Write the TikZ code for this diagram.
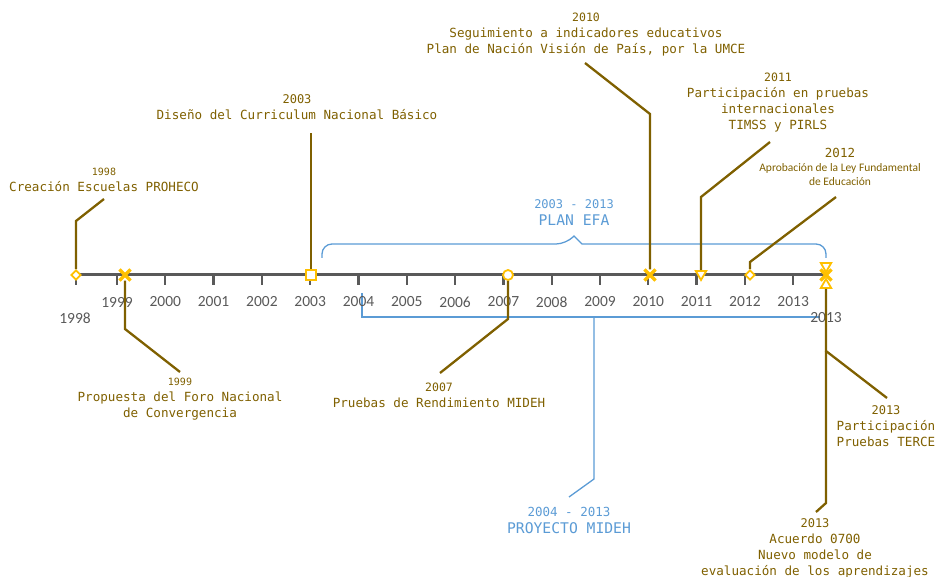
\documentclass[tikz,border=0pt]{standalone}
\usepackage{fontspec}
\setmainfont{Carlito}
\setmonofont{DejaVu Sans Mono}
\usepackage{xcolor}
\usetikzlibrary{shapes.geometric,shapes.misc}
\definecolor{ocre}{HTML}{7F6000}
\definecolor{markorange}{HTML}{FFC000}
\definecolor{efablue}{HTML}{5B9BD5}
\definecolor{axisgray}{HTML}{595959}
\newcommand\evyear[2][11.5]{{\fontsize{#1}{16}\selectfont #2}}
\tikzset{
	timeaxis/.style={axisgray, line width=3pt},
	yeartick/.style={axisgray, line width=2.3pt},
	yearlbl/.style={axisgray, inner sep=0pt, font=\fontsize{15.5}{16}\selectfont},
	leader/.style={ocre, line width=2.3pt},
	event/.style={ocre, align=center, inner sep=0pt, font=\ttfamily\fontsize{12.6}{16}\selectfont},
	span/.style={efablue, line width=1.3pt},
	spanlbl/.style={efablue, align=center, inner sep=0pt, font=\ttfamily\fontsize{14.7}{17}\selectfont},
	marker/.style={draw=markorange, fill=white, line width=1.8pt, inner sep=0pt},
	mdiamond/.style={marker, diamond, minimum size=10pt},
	msquare/.style={marker, rectangle, minimum size=10pt},
	mcircle/.style={marker, circle, minimum size=10pt},
	mtridown/.style={marker, regular polygon, regular polygon sides=3, shape border rotate=180, minimum size=12pt},
	mtriup/.style={marker, regular polygon, regular polygon sides=3, minimum size=12pt},
	mcross/.style={draw=markorange, cross out, line width=3.2pt, minimum size=8pt, inner sep=0pt}
}

\begin{document}
\begin{tikzpicture}[x=1pt,y=-1pt]
	\useasboundingbox (0,0) rectangle (937,577);

	% periods
	\draw[span, rounded corners=10pt] (322,258) |- (566,244) [sharp corners] -- (574,236) -- (582,244) [rounded corners=10pt] -| (826,258);
	\draw[span] (362,293) |- (820,317);
	\node[spanlbl] (efa) at (574,213) {\evyear[12]{2003 - 2013}\\PLAN EFA};
	\node[spanlbl] (mideh) at (569,520) {\evyear[12.5]{2004 - 2013}\\PROYECTO MIDEH};
	\coordinate (pm) at (594,317);
	\coordinate (km) at (594,479);
	\coordinate (em) at (569,497);
	\draw[span] (pm) -- (km) -- (em);

	% axis
	\draw[timeaxis] (76,275) -- (826,275);
	\draw[yeartick] (76,275) -- (76,285);
	\foreach \yy [count=\i from 0] in {1999,...,2013}{
		\draw[yeartick] (117+48.3*\i,275) -- (117+48.3*\i,285);
		\node[yearlbl] (y\yy) at (117+48.3*\i,302) {\yy};
	}
	\node[yearlbl] (y1998) at (75,318) {1998};
	\node[yearlbl] (yend) at (826,318) {2013};

	% events
	\node[event] (ev98) at (104,180) {\evyear[10]{1998}\\Creación Escuelas PROHECO};
	\node[event] (ev99) at (180,399) {\evyear[10]{1999}\\Propuesta del Foro Nacional\\de Convergencia};
	\node[event] (ev03) at (297,107) {\evyear[12]{2003}\\Diseño del Curriculum Nacional Básico};
	\node[event] (ev07) at (439,395) {\evyear{2007}\\Pruebas de Rendimiento MIDEH};
	\node[event] (ev10) at (586,35) {\evyear{2010}\\Seguimiento a indicadores educativos\\Plan de Nación Visión de País, por la UMCE};
	\node[event] (ev11) at (778,103) {\evyear{2011}\\Participación en pruebas\\internacionales\\TIMSS y PIRLS};
	\node[event, font=\fontsize{11.5}{14}\selectfont] (ev12) at (840,167) {\evyear[12.5]{\ttfamily 2012}\\Aprobación de la Ley Fundamental\\de Educación};
	\node[event] (ev13a) at (886,426) {\evyear[12]{2013}\\Participación\\Pruebas TERCE};
	\node[event] (ev13b) at (815,548) {\evyear[12]{2013}\\Acuerdo 0700\\Nuevo modelo de\\evaluación de los aprendizajes};

	% markers
	\node[mdiamond] (m98) at (76,275) {};
	\node[mcross] (m99) at (125,275) {};
	\node[msquare] (m03) at (311,275) {};
	\node[mcircle] (m07) at (508,275) {};
	\node[mcross] (m10) at (650,275) {};
	\node[mtridown] (m11) at (701,274) {};
	\node[mdiamond] (m12) at (750,275) {};
	\node[mtridown] (m13d) at (826,266) {};
	\node[mcross] (m13) at (826,275) {};
	\node[mtriup] (m13u) at (826,285) {};

	% leaders
	\coordinate (k98) at (76,221);
	\coordinate (e98) at (104,199);
	\coordinate (k99) at (125,329);
	\coordinate (e99) at (180,372);
	\coordinate (e03) at (311,133);
	\coordinate (k07) at (508,319);
	\coordinate (e07) at (440,373);
	\coordinate (k10) at (650,114);
	\coordinate (e10) at (585,63);
	\coordinate (k11) at (701,197);
	\coordinate (e11) at (770,142);
	\coordinate (k12) at (750,262);
	\coordinate (e12) at (836,197);
	\coordinate (k13a) at (826,351);
	\coordinate (e13a) at (887,398);
	\coordinate (k13b) at (826,503);
	\coordinate (e13b) at (816,512);
	\draw[leader] (m98.north) -- (k98) -- (e98);
	\draw[leader] (m99.south) -- (k99) -- (e99);
	\draw[leader] (m03.north) -- (e03);
	\draw[leader] (m07.south) -- (k07) -- (e07);
	\draw[leader] (m10.north) -- (k10) -- (e10);
	\draw[leader] (m11.north) -- (k11) -- (e11);
	\draw[leader] (m12.north) -- (k12) -- (e12);
	\draw[leader] (m13u.south) -- (k13a) -- (e13a);
	\draw[leader] (k13a) -- (k13b) -- (e13b);
\end{tikzpicture}
\end{document}
